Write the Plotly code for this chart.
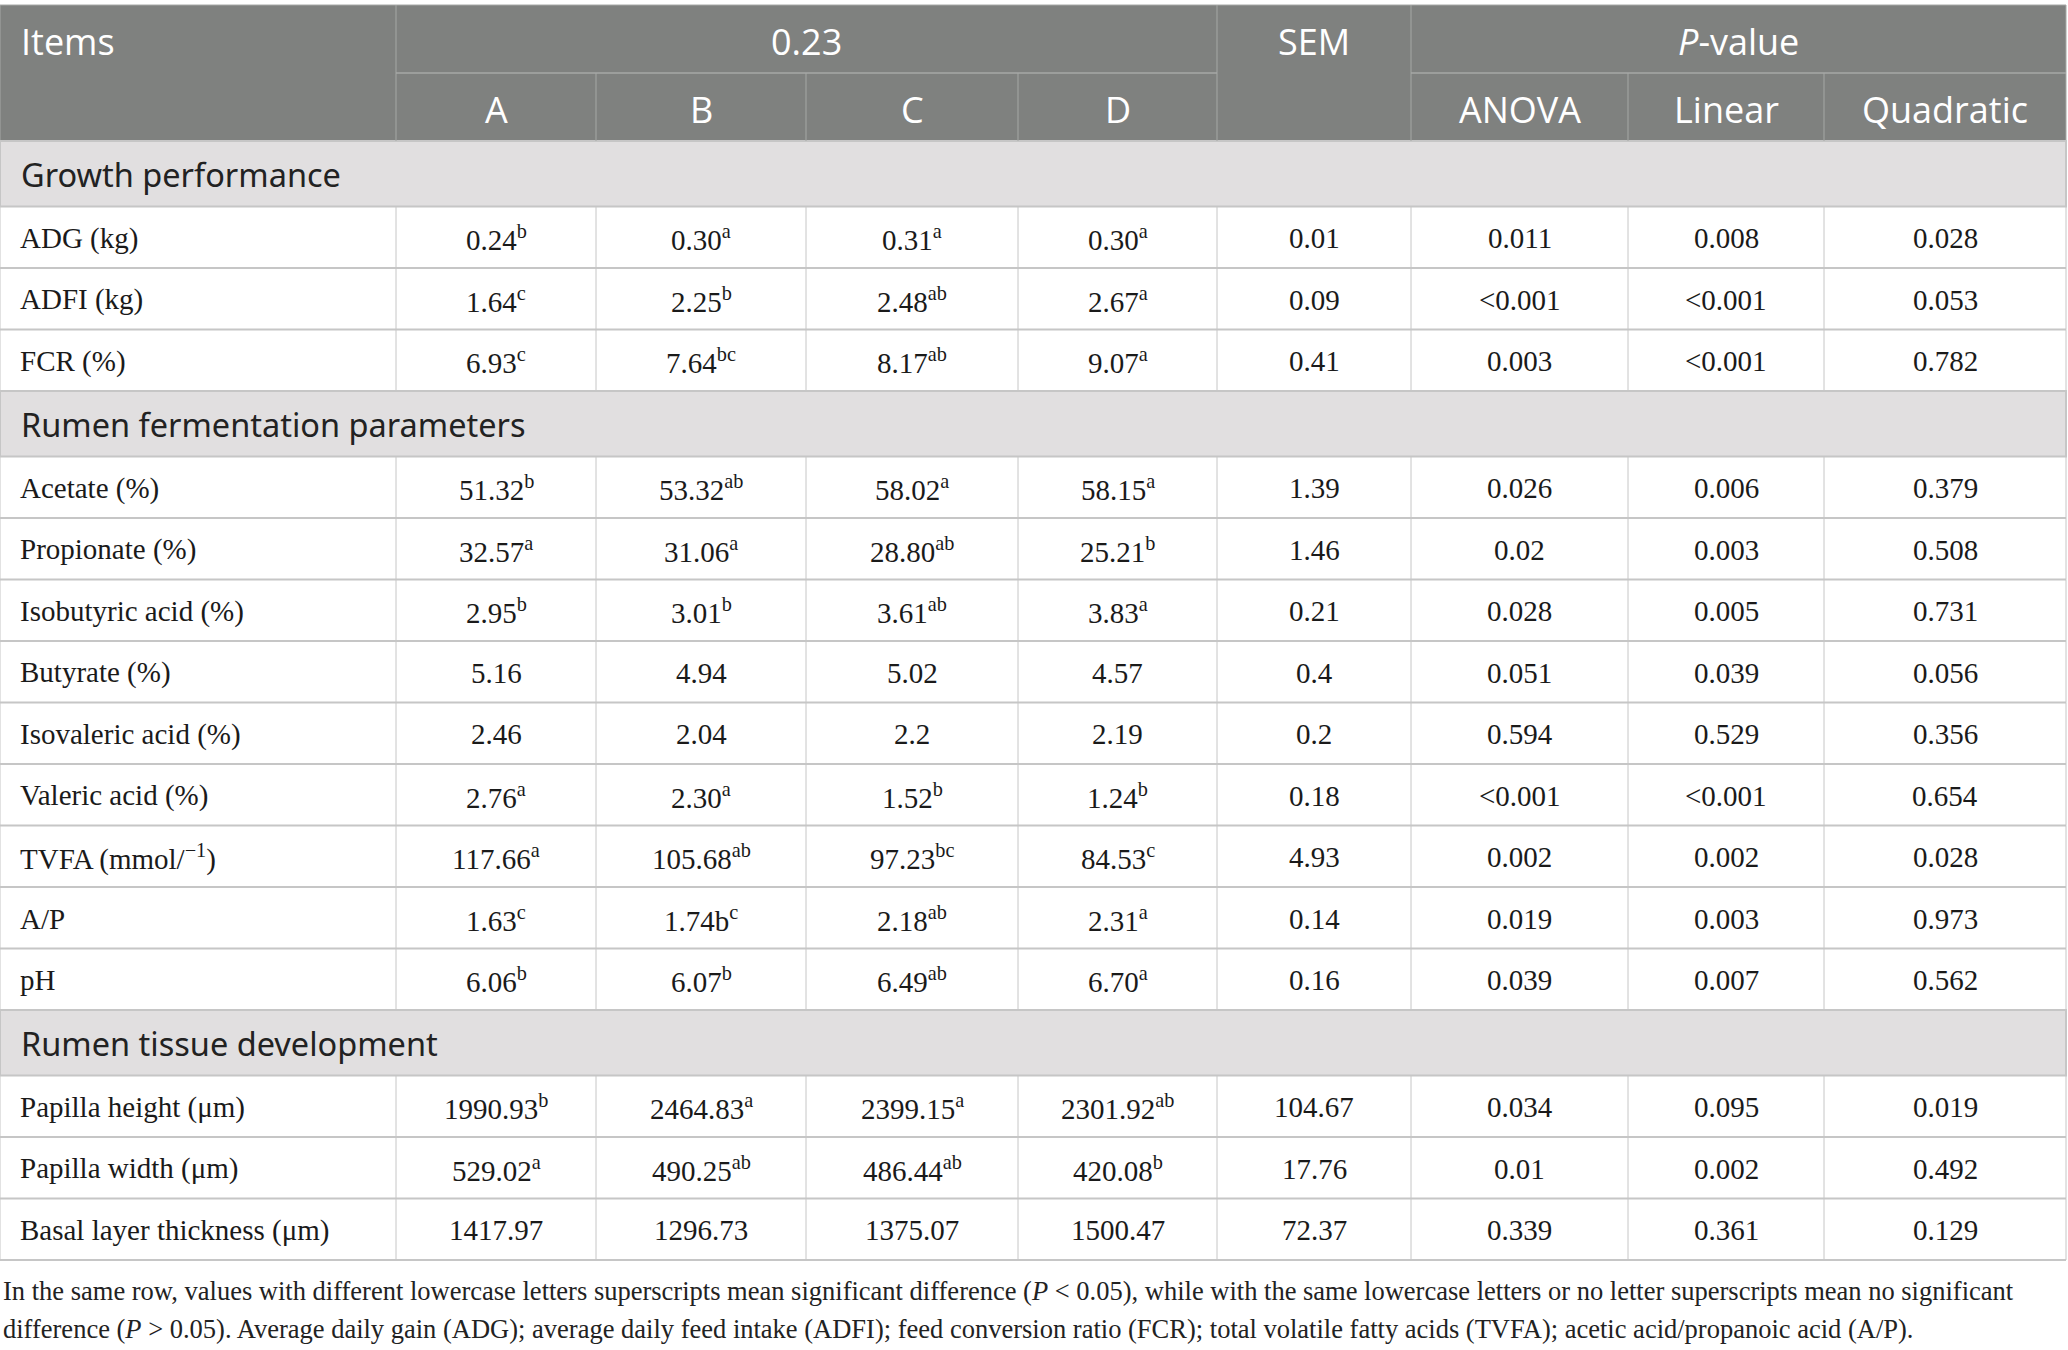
import plotly.graph_objects as go

# ---------------- data ----------------
sections = ["Growth performance", "Rumen fermentation parameters", "Rumen tissue development"]
section_of_item = [0, 0, 0, 1, 1, 1, 1, 1, 1, 1, 1, 1, 2, 2, 2]
items = ["ADG (kg)", "ADFI (kg)", "FCR (%)", "Acetate (%)", "Propionate (%)",
         "Isobutyric acid (%)", "Butyrate (%)", "Isovaleric acid (%)", "Valeric acid (%)",
         "TVFA (mmol/<sup>−1</sup>)", "A/P", "pH", "Papilla height (μm)",
         "Papilla width (μm)", "Basal layer thickness (μm)"]
A = ["0.24", "1.64", "6.93", "51.32", "32.57", "2.95", "5.16", "2.46", "2.76", "117.66", "1.63", "6.06", "1990.93", "529.02", "1417.97"]
A_sup = ["b", "c", "c", "b", "a", "b", "", "", "a", "a", "c", "b", "b", "a", ""]
B = ["0.30", "2.25", "7.64", "53.32", "31.06", "3.01", "4.94", "2.04", "2.30", "105.68", "1.74b", "6.07", "2464.83", "490.25", "1296.73"]
B_sup = ["a", "b", "bc", "ab", "a", "b", "", "", "a", "ab", "c", "b", "a", "ab", ""]
C = ["0.31", "2.48", "8.17", "58.02", "28.80", "3.61", "5.02", "2.2", "1.52", "97.23", "2.18", "6.49", "2399.15", "486.44", "1375.07"]
C_sup = ["a", "ab", "ab", "a", "ab", "ab", "", "", "b", "bc", "ab", "ab", "a", "ab", ""]
D = ["0.30", "2.67", "9.07", "58.15", "25.21", "3.83", "4.57", "2.19", "1.24", "84.53", "2.31", "6.70", "2301.92", "420.08", "1500.47"]
D_sup = ["a", "a", "a", "a", "b", "a", "", "", "b", "c", "a", "a", "ab", "b", ""]
SEM = ["0.01", "0.09", "0.41", "1.39", "1.46", "0.21", "0.4", "0.2", "0.18", "4.93", "0.14", "0.16", "104.67", "17.76", "72.37"]
ANOVA = ["0.011", "<0.001", "0.003", "0.026", "0.02", "0.028", "0.051", "0.594", "<0.001", "0.002", "0.019", "0.039", "0.034", "0.01", "0.339"]
Linear = ["0.008", "<0.001", "<0.001", "0.006", "0.003", "0.005", "0.039", "0.529", "<0.001", "0.002", "0.003", "0.007", "0.095", "0.002", "0.361"]
Quadratic = ["0.028", "0.053", "0.782", "0.379", "0.508", "0.731", "0.056", "0.356", "0.654", "0.028", "0.973", "0.562", "0.019", "0.492", "0.129"]

header_top = ["Items", "0.23", "SEM", "<i>P</i>-value"]
header_sub = ["A", "B", "C", "D", "ANOVA", "Linear", "Quadratic"]
footnote = [
    "In the same row, values with different lowercase letters superscripts mean significant difference (<i>P</i> &lt; 0.05), while with the same lowercase letters or no letter superscripts mean no significant",
    "difference (<i>P</i> &gt; 0.05). Average daily gain (ADG); average daily feed intake (ADFI); feed conversion ratio (FCR); total volatile fatty acids (TVFA); acetic acid/propanoic acid (A/P).",
]

# ---------------- layout constants ----------------
W, H = 2068, 1350
col_edges = [0, 396, 596, 806, 1018, 1217, 1411, 1628, 1824, 2066]
y_top, y_h1, y_h2 = 5, 73, 141
sec_h, row_h = 65.5, 61.5

HEAD_BG = "#7f817f"
HEAD_LINE = "#a6a8a6"
SEC_BG = "#e1dfe0"
GRID = "#c6c6c6"
TXT = "#1a1a1a"
SERIF = "Liberation Serif"
SANS_H = "Open Sans"
SANS_S = "Noto Sans"


def esc(s):
    return s.replace("<0", "&lt;0")


fig = go.Figure()
fig.add_trace(go.Scatter(x=[0, W], y=[0, H], mode="markers",
                         marker=dict(opacity=0), hoverinfo="skip", showlegend=False))

shapes = []
ann = []


def line(x0, y0, x1, y1, color, width):
    shapes.append(dict(type="line", x0=x0, y0=y0, x1=x1, y1=y1, xref="x", yref="y",
                       line=dict(color=color, width=width), layer="above"))


def text(x, y, s, size, family, color, xanchor="center"):
    ann.append(dict(x=x, y=y, xref="x", yref="y", text=s, showarrow=False,
                    xanchor=xanchor, yanchor="middle",
                    font=dict(size=size, family=family, color=color)))


# ---- header ----
shapes.append(dict(type="rect", x0=0, y0=y_top, x1=col_edges[-1], y1=y_h2, xref="x", yref="y",
                   fillcolor=HEAD_BG, line=dict(color=HEAD_LINE, width=1), layer="below"))
for xe in col_edges[1:-1]:
    full = xe in (396, 1217, 1411)
    line(xe, y_top if full else y_h1, xe, y_h2, HEAD_LINE, 1)
line(col_edges[1], y_h1, col_edges[5], y_h1, HEAD_LINE, 1.5)
line(col_edges[6], y_h1, col_edges[9], y_h1, HEAD_LINE, 1.5)

hy1 = (y_top + y_h1) / 2 + 2
hy2 = (y_h1 + y_h2) / 2 + 2
HS = 36
text(19, hy1, header_top[0], HS, SANS_H, "white", "left")
text((col_edges[1] + col_edges[5]) / 2, hy1, header_top[1], HS, SANS_H, "white")
text((col_edges[5] + col_edges[6]) / 2, hy1, header_top[2], HS, SANS_H, "white")
text((col_edges[6] + col_edges[9]) / 2, hy1, header_top[3], HS, SANS_H, "white")
sub_cols = [1, 2, 3, 4, 6, 7, 8]
for lab, c in zip(header_sub, sub_cols):
    text((col_edges[c] + col_edges[c + 1]) / 2, hy2, lab, HS, SANS_H, "white")

# ---- body ----
y = y_h2
prev_sec = -1
value_cols = [(A, A_sup), (B, B_sup), (C, C_sup), (D, D_sup),
              (SEM, None), (ANOVA, None), (Linear, None), (Quadratic, None)]
for i, item in enumerate(items):
    s = section_of_item[i]
    if s != prev_sec:
        shapes.append(dict(type="rect", x0=0, y0=y, x1=col_edges[-1], y1=y + sec_h,
                           xref="x", yref="y", fillcolor=SEC_BG,
                           line=dict(color=GRID, width=2), layer="below"))
        text(19, y + sec_h / 2 + 1, sections[s], 32.5, SANS_S, "#222222", "left")
        y += sec_h
        prev_sec = s
    y0, y1 = y, y + row_h
    line(0, y1, col_edges[-1], y1, GRID, 2)
    for xe in col_edges:
        line(xe, y0, xe, y1, GRID, 1)
    cy = (y0 + y1) / 2 + 1
    text(18, cy, item, 29, SERIF, TXT, "left")
    for c, (vals, sups) in enumerate(value_cols, start=1):
        v = esc(vals[i])
        if sups is not None and sups[i]:
            v = v + "<sup>" + sups[i] + "</sup>"
        text((col_edges[c] + col_edges[c + 1]) / 2, cy, v, 29, SERIF, TXT)
    y = y1

# ---- footnote ----
text(1, 1291, footnote[0], 26.5, SERIF, "#222222", "left")
text(1, 1329, footnote[1], 26.5, SERIF, "#222222", "left")

fig.update_layout(
    width=W, height=H, margin=dict(l=0, r=0, t=0, b=0),
    paper_bgcolor="white", plot_bgcolor="white",
    xaxis=dict(range=[0, W], visible=False, fixedrange=True),
    yaxis=dict(range=[H, 0], visible=False, fixedrange=True),
    shapes=shapes, annotations=ann, showlegend=False,
)
fig.write_html("out.html", config={"displayModeBar": False},
               post_script="document.body.style.margin='0';document.body.style.overflow='hidden';")
